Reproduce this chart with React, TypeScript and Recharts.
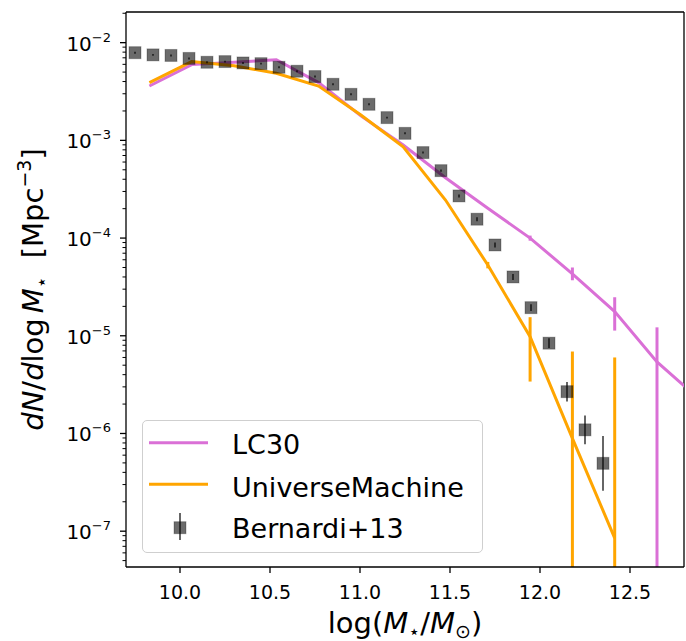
import {
  ComposedChart,
  Line,
  Scatter,
  XAxis,
  YAxis,
  ErrorBar,
  Legend,
  ReferenceLine,
} from 'recharts';

// LC30 stellar mass function
const lcMass = [9.83, 10.065, 10.3, 10.535, 10.77, 11.005, 11.24, 11.475, 11.71, 11.945, 12.18, 12.415, 12.65, 12.885];
const lcPhi = [3.6e-3, 5.96e-3, 6.3e-3, 6.7e-3, 3.9e-3, 1.78e-3, 8.97e-4, 4.15e-4, 2.02e-4, 1.0e-4, 4.3e-5, 1.77e-5, 5.4e-6, 2.25e-6];
const lcLow = [null, null, null, null, null, null, null, null, null, 9.4e-5, 3.7e-5, 1.13e-5, 1e-10, null];
const lcHigh = [null, null, null, null, null, null, null, null, null, 1.06e-4, 5.0e-5, 2.48e-5, 1.22e-5, null];

// UniverseMachine
const umMass = [9.83, 10.065, 10.3, 10.535, 10.77, 11.005, 11.24, 11.475, 11.71, 11.945, 12.18, 12.415];
const umPhi = [3.9e-3, 6.4e-3, 5.8e-3, 4.86e-3, 3.6e-3, 1.82e-3, 8.6e-4, 2.45e-4, 5.3e-5, 9.8e-6, 8.9e-7, 8.5e-8];
const umLow = [null, null, null, null, null, null, null, null, 4.9e-5, 3.4e-6, 1e-10, 1e-10];
const umHigh = [null, null, null, null, null, null, null, null, 5.7e-5, 1.55e-5, 6.9e-6, 6.0e-6];

// Bernardi+13 (errors in dex)
const bernMass = [9.75, 9.85, 9.95, 10.05, 10.15, 10.25, 10.35, 10.45, 10.55, 10.65, 10.75, 10.85, 10.95, 11.05, 11.15, 11.25, 11.35, 11.45, 11.55, 11.65, 11.75, 11.85, 11.95, 12.05, 12.15, 12.25, 12.35];
const bernPhi = [7.9e-3, 7.5e-3, 7.4e-3, 6.9e-3, 6.3e-3, 6.4e-3, 6.2e-3, 6.1e-3, 5.6e-3, 5.1e-3, 4.5e-3, 3.75e-3, 2.96e-3, 2.34e-3, 1.71e-3, 1.18e-3, 7.5e-4, 4.9e-4, 2.7e-4, 1.56e-4, 8.5e-5, 4.0e-5, 1.94e-5, 8.4e-6, 2.68e-6, 1.09e-6, 4.95e-7];
const bernErrDex = [0.01, 0.01, 0.01, 0.01, 0.01, 0.01, 0.01, 0.01, 0.01, 0.01, 0.01, 0.01, 0.01, 0.01, 0.01, 0.01, 0.01, 0.012, 0.015, 0.02, 0.025, 0.03, 0.035, 0.05, 0.1, 0.147, 0.28];

const xDomain = [9.7, 12.8];
const xTicks = [10.0, 10.5, 11.0, 11.5, 12.0, 12.5];
const yDomain = [4.3e-8, 2.06e-2];
const yMajor = [1e-7, 1e-6, 1e-5, 1e-4, 1e-3, 1e-2];
const yMajorExp = ['−7', '−6', '−5', '−4', '−3', '−2'];
const yDecades = [1e-8, 1e-7, 1e-6, 1e-5, 1e-4, 1e-3, 1e-2];
const yMinorMult = [2, 3, 4, 5, 6, 7, 8, 9];

const yMinor = yDecades
  .flatMap((d) => yMinorMult.map((m) => m * d))
  .filter((v) => v >= yDomain[0] && v <= yDomain[1]);
const yTicks = [...yMajor, ...yMinor].sort((a, b) => a - b);

const LC_COLOR = '#DA70D6';
const UM_COLOR = '#FFA500';
const FONT = 'DejaVu Sans';

// error bars that run off the bottom of the log axis are cut at the axis floor
const withErr = (x: number[], y: number[], lo: (number | null)[], hi: (number | null)[]) =>
  x.map((m, i) => ({
    x: m,
    y: y[i],
    err:
      lo[i] != null && hi[i] != null
        ? [y[i] - Math.max(lo[i] as number, yDomain[0]), (hi[i] as number) - y[i]]
        : undefined,
  }));

const lcData = withErr(lcMass, lcPhi, lcLow, lcHigh);
const umData = withErr(umMass, umPhi, umLow, umHigh);
const bernData = bernMass.map((m, i) => ({
  x: m,
  y: bernPhi[i],
  err: [
    bernPhi[i] - bernPhi[i] * Math.pow(10, -bernErrDex[i]),
    bernPhi[i] * Math.pow(10, bernErrDex[i]) - bernPhi[i],
  ],
}));

const XTick = (props: any) => {
  const { x, y, payload } = props;
  return (
    <g>
      <line x1={x} x2={x} y1={y} y2={y + 6} stroke="#000" strokeWidth={1.3} />
      <text x={x} y={y + 32} textAnchor="middle" fontFamily={FONT} fontSize={19} fill="#000">
        {Number(payload.value).toFixed(1)}
      </text>
    </g>
  );
};

const YTick = (props: any) => {
  const { x, y, payload } = props;
  const idx = yMajor.findIndex((v) => Math.abs(v - payload.value) / v < 1e-6);
  const major = idx >= 0;
  return (
    <g>
      <line x1={x - (major ? 6 : 3.5)} x2={x} y1={y} y2={y} stroke="#000" strokeWidth={major ? 1.3 : 1} />
      {major && (
        <text x={x - 15} y={y + 8} textAnchor="end" fontFamily={FONT} fontSize={20} fill="#000">
          10
          <tspan fontSize={13} dy={-9}>
            {yMajorExp[idx]}
          </tspan>
        </text>
      )}
    </g>
  );
};

const XLabel = (props: any) => {
  const { viewBox } = props;
  const cx = viewBox.x + viewBox.width / 2;
  return (
    <text x={cx} y={viewBox.y + 66} textAnchor="middle" fontFamily={FONT} fontSize={29} fill="#000">
      log(
      <tspan fontStyle="italic">M</tspan>
      <tspan fontSize={19} dy={5}>⋆</tspan>
      <tspan dy={-5}>/</tspan>
      <tspan fontStyle="italic">M</tspan>
      <tspan fontSize={19} dy={5}>⊙</tspan>
      <tspan dy={-5}>)</tspan>
    </text>
  );
};

const YLabel = (props: any) => {
  const { viewBox } = props;
  const cy = viewBox.y + viewBox.height / 2;
  return (
    <text
      transform={`translate(43,${cy}) rotate(-90)`}
      textAnchor="middle"
      fontFamily={FONT}
      fontSize={29}
      fill="#000"
    >
      <tspan fontStyle="italic">dN</tspan>
      <tspan>/</tspan>
      <tspan fontStyle="italic">d</tspan>
      <tspan>log</tspan>
      <tspan dx={5} fontStyle="italic">M</tspan>
      <tspan fontSize={19} dy={5}>⋆</tspan>
      <tspan dy={-5} dx={18}>[Mpc</tspan>
      <tspan fontSize={19} dy={-12}>−3</tspan>
      <tspan dy={12}>]</tspan>
    </text>
  );
};

const Square = (props: any) => {
  const { cx, cy } = props;
  return (
    <rect
      x={cx - 6}
      y={cy - 6}
      width={12}
      height={12}
      fill="rgba(0,0,0,0.58)"
      stroke="rgba(0,0,0,0.25)"
      strokeWidth={1}
    />
  );
};

const LegendBox = () => (
  <div
    style={{
      width: 341,
      height: 133,
      boxSizing: 'border-box',
      border: '1px solid #cfcfcf',
      borderRadius: 5,
      background: 'rgba(255,255,255,0.8)',
    }}
  >
    <svg width={339} height={131} style={{ display: 'block' }}>
      <line x1={6} x2={65} y1={21.7} y2={21.7} stroke={LC_COLOR} strokeWidth={3} />
      <text x={89} y={33.3} fontFamily={FONT} fontSize={27} fill="#000">LC30</text>
      <line x1={6} x2={65} y1={63.3} y2={63.3} stroke={UM_COLOR} strokeWidth={3} />
      <text x={89} y={75.7} fontFamily={FONT} fontSize={27} fill="#000">UniverseMachine</text>
      <line x1={37} x2={37} y1={92} y2={119} stroke="rgba(0,0,0,0.6)" strokeWidth={2} />
      <rect x={31} y={100.7} width={12} height={12} fill="rgba(0,0,0,0.58)" stroke="rgba(0,0,0,0.25)" />
      <text x={89} y={116.7} fontFamily={FONT} fontSize={27} fill="#000">Bernardi+13</text>
    </svg>
  </div>
);

const axisLine = { stroke: '#000', strokeWidth: 1.3 };

export default function App() {
  return (
    <div style={{ position: 'absolute', left: 0, top: 0, width: 686, height: 641, background: '#fff' }}>
      <ComposedChart width={686} height={641} margin={{ top: 12, right: 2, bottom: 0, left: 0 }}>
        <XAxis
          dataKey="x"
          type="number"
          domain={xDomain}
          allowDataOverflow
          ticks={xTicks}
          interval={0}
          tickSize={0}
          tickMargin={0}
          tickLine={false}
          tick={(p: any) => <XTick {...p} />}
          height={74}
          axisLine={axisLine}
          label={(p: any) => <XLabel {...p} />}
        />
        <YAxis
          type="number"
          scale="log"
          domain={yDomain}
          allowDataOverflow
          ticks={yTicks}
          interval={0}
          tickSize={0}
          tickMargin={0}
          tickLine={false}
          tick={(p: any) => <YTick {...p} />}
          width={126}
          axisLine={axisLine}
          label={(p: any) => <YLabel {...p} />}
        />

        {/* top and right spines */}
        <ReferenceLine x={xDomain[1]} stroke="#000" strokeWidth={1.3} ifOverflow="visible" />
        <ReferenceLine y={yDomain[1]} stroke="#000" strokeWidth={1.3} ifOverflow="visible" />

        <Line
          data={lcData}
          dataKey="y"
          name="LC30"
          type="linear"
          stroke={LC_COLOR}
          strokeWidth={3}
          dot={false}
          isAnimationActive={false}
        >
          <ErrorBar dataKey="err" direction="y" width={0} stroke={LC_COLOR} strokeWidth={3} />
        </Line>
        <Line
          data={umData}
          dataKey="y"
          name="UniverseMachine"
          type="linear"
          stroke={UM_COLOR}
          strokeWidth={3}
          dot={false}
          isAnimationActive={false}
        >
          <ErrorBar dataKey="err" direction="y" width={0} stroke={UM_COLOR} strokeWidth={3} />
        </Line>
        <Scatter data={bernData} dataKey="y" name="Bernardi+13" shape={Square} isAnimationActive={false}>
          <ErrorBar dataKey="err" direction="y" width={0} stroke="rgba(0,0,0,0.6)" strokeWidth={2} />
        </Scatter>

        <Legend
          layout="vertical"
          align="center"
          verticalAlign="middle"
          wrapperStyle={{ left: 142, top: 420, width: 341, height: 133 }}
          content={() => <LegendBox />}
        />
      </ComposedChart>
    </div>
  );
}
